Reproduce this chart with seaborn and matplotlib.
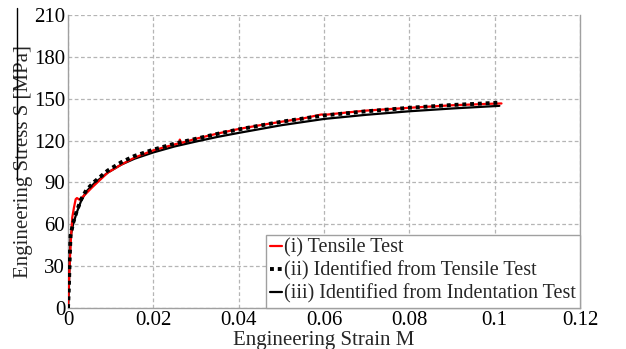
import numpy as np
import pandas as pd
import matplotlib
matplotlib.use("Agg")
import matplotlib.pyplot as plt
import seaborn as sns
from matplotlib.lines import Line2D

# ---- data ----
strain_i = [0, 0.0003, 0.0006, 0.001, 0.0014, 0.0018, 0.0021, 0.0027, 0.0039, 0.0055,
            0.0074, 0.0093, 0.0125, 0.0156, 0.02, 0.025, 0.026, 0.0262, 0.0265, 0.03,
            0.035, 0.04, 0.045, 0.05, 0.055, 0.0594, 0.06, 0.065, 0.07, 0.08, 0.09, 0.1, 0.1016]
stress_i = [0, 25, 45, 65, 72, 78, 78.8, 77.6, 81, 86,
            91.5, 97, 102.8, 107.8, 113, 117.3, 118, 120.7, 118.3, 121.3,
            125, 128.3, 131, 133.5, 135.8, 138.7, 138.4, 140, 141.5, 143.5, 145.3, 146.5, 146.6]

strain_ii = [0, 0.0002, 0.0004, 0.0006, 0.0012, 0.002, 0.0031, 0.0043, 0.0062, 0.0093,
             0.0125, 0.0156, 0.02, 0.025, 0.03, 0.035, 0.04, 0.05, 0.06, 0.07,
             0.08, 0.09, 0.1, 0.1013]
stress_ii = [0, 14, 36, 52, 61, 69, 78, 84.5, 90.5, 98.5,
             104.5, 109, 113.5, 117.8, 121.3, 124.8, 128, 133.5, 138, 141,
             143.5, 145.5, 147, 147.2]

strain_iii = [0, 0.0002, 0.0004, 0.0006, 0.0012, 0.002, 0.0031, 0.0043, 0.0062, 0.0093,
              0.0125, 0.0156, 0.02, 0.025, 0.03, 0.035, 0.04, 0.05, 0.06, 0.07,
              0.08, 0.09, 0.1, 0.1011]
stress_iii = [0, 13, 35, 51, 60, 68, 77, 83.5, 89.5, 97,
              102.8, 107, 111.5, 115.8, 119.3, 122.6, 125.5, 131, 135.5, 138.5,
              141, 143, 144.7, 144.9]

labels = ["(i) Tensile Test",
          "(ii) Identified from Tensile Test",
          "(iii) Identified from Indentation Test"]
xticks = [0, 0.02, 0.04, 0.06, 0.08, 0.1, 0.12]
xticklabels = ["0", "0.02", "0.04", "0.06", "0.08", "0.1", "0.12"]
yticks = [0, 30, 60, 90, 120, 150, 180, 210]

df_i = pd.DataFrame({"strain": strain_i, "stress": stress_i})
df_ii = pd.DataFrame({"strain": strain_ii, "stress": stress_ii})
df_iii = pd.DataFrame({"strain": strain_iii, "stress": stress_iii})

sns.set_theme(style="whitegrid")
plt.rcParams["font.family"] = ["Liberation Serif", "DejaVu Serif"]

fig = plt.figure(figsize=(6.26, 3.49), dpi=100)
ax = fig.add_axes([68/626, 1-308/349, (580-68)/626, (308-15)/349])

sns.lineplot(data=df_iii, x="strain", y="stress", ax=ax, color="black", lw=1.6,
             sort=False, estimator=None, zorder=3)
sns.lineplot(data=df_i, x="strain", y="stress", ax=ax, color="red", lw=1.6,
             sort=False, estimator=None, zorder=4)
sns.lineplot(data=df_ii, x="strain", y="stress", ax=ax, color="black", lw=2.8,
             linestyle=(0, (1, 1)), sort=False, estimator=None, zorder=5)

ax.set_xlim(0, 0.12)
ax.set_ylim(0, 210)
ax.set_xticks(xticks)
ax.set_xticklabels(xticklabels)
ax.set_yticks(yticks)
ax.tick_params(axis="both", labelsize=15, length=0, pad=2, colors="black")

ax.grid(True, color="#b5b5b5", linestyle=(0, (3, 2)), linewidth=0.9)
for side in ["left", "bottom", "right"]:
    ax.spines[side].set_visible(True)
    ax.spines[side].set_color("#a0a0a0")
    ax.spines[side].set_linewidth(1.0)
ax.spines["top"].set_visible(False)

ax.set_xlabel("Engineering Strain M", fontsize=15, labelpad=1)
ax.set_ylabel("Engineering Stress S [MPa]", fontsize=15, labelpad=1)

handles = [Line2D([], [], color="red", lw=1.6),
           Line2D([], [], color="black", lw=2.8, linestyle=(0, (1, 1))),
           Line2D([], [], color="black", lw=1.6)]
leg = ax.legend(handles, labels, loc="lower right", fontsize=14.5, frameon=True,
                fancybox=False, handlelength=0.6, handletextpad=0.1,
                borderpad=0.2, labelspacing=0.18, borderaxespad=0.0)
leg.get_frame().set_edgecolor("#a0a0a0")
leg.get_frame().set_linewidth(1.0)
leg.get_frame().set_alpha(1.0)

# overline artifact next to the y label
fig.add_artist(Line2D([17/626, 17/626], [1-8/349, 1-180/349],
                      transform=fig.transFigure, color="black", lw=1.0))

fig.savefig("out.png", dpi=100)
